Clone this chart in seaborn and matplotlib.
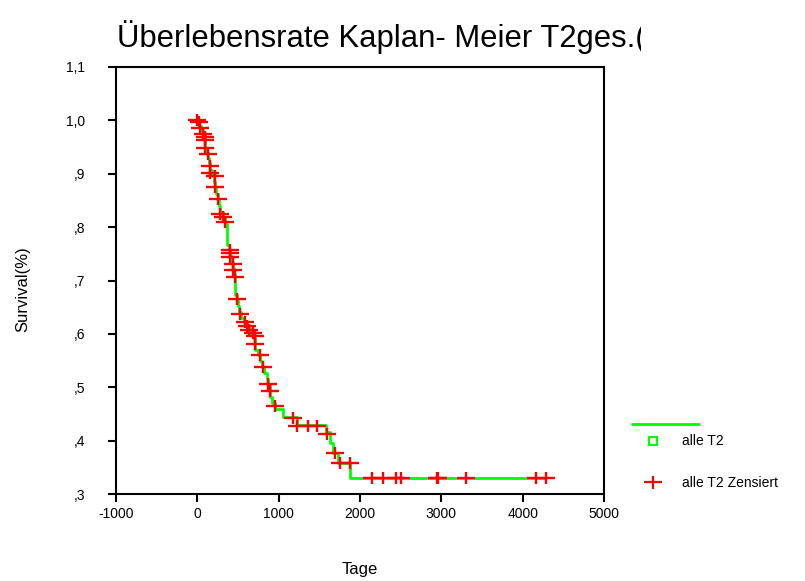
import numpy as np
import pandas as pd
import matplotlib
matplotlib.use("Agg")
import matplotlib.pyplot as plt
import seaborn as sns
from matplotlib.path import Path
from matplotlib.markers import MarkerStyle
from matplotlib.lines import Line2D
from matplotlib.transforms import Bbox, TransformedBbox

# Kaplan-Meier step curve (days, survival after step)
step_days = [0, 25, 49, 74, 98, 123, 135, 148, 160, 185, 209, 221, 234, 258, 271, 283,
             320, 344, 369, 394, 406, 431, 443, 455, 467, 492, 504, 517, 541, 578, 615,
             652, 689, 713, 750, 775, 800, 824, 861, 873, 898, 923, 959, 1058, 1230,
             1587, 1636, 1673, 1734, 1882, 4293]
step_surv = [1.0, 0.989, 0.982, 0.974, 0.948, 0.940, 0.929, 0.920, 0.907, 0.896, 0.884,
             0.873, 0.862, 0.851, 0.839, 0.828, 0.817, 0.806, 0.766, 0.757, 0.746, 0.734,
             0.723, 0.712, 0.673, 0.663, 0.652, 0.641, 0.630, 0.622, 0.611, 0.601, 0.592,
             0.570, 0.560, 0.549, 0.538, 0.527, 0.515, 0.504, 0.482, 0.470, 0.459, 0.444,
             0.429, 0.416, 0.396, 0.377, 0.358, 0.330, 0.330]

# censored observations
cens_days = [0, 25, 30, 74, 98, 98, 98, 135, 160, 160, 221, 221, 258, 283, 320, 344,
             406, 406, 406, 443, 443, 467, 492, 529, 590, 615, 640, 689, 713, 713, 775,
             812, 873, 898, 959, 1181, 1230, 1365, 1476, 1599, 1697, 1759, 1882,
             2153, 2288, 2448, 2509, 2952, 2964, 3309, 4170, 4293]
cens_surv = [1.0, 0.997, 0.985, 0.974, 0.969, 0.963, 0.948, 0.937, 0.914, 0.901, 0.896,
             0.875, 0.852, 0.824, 0.819, 0.809, 0.757, 0.751, 0.744, 0.731, 0.719, 0.706,
             0.665, 0.637, 0.622, 0.615, 0.607, 0.601, 0.596, 0.581, 0.560, 0.538, 0.506,
             0.493, 0.465, 0.442, 0.427, 0.427, 0.427, 0.412, 0.377, 0.358, 0.358,
             0.33, 0.33, 0.33, 0.33, 0.33, 0.33, 0.33, 0.33, 0.33]

x_ticks = [-1000, 0, 1000, 2000, 3000, 4000, 5000]
x_tick_labels = ["-1000", "0", "1000", "2000", "3000", "4000", "5000"]
y_ticks = [0.3, 0.4, 0.5, 0.6, 0.7, 0.8, 0.9, 1.0, 1.1]
y_tick_labels = [",3", ",4", ",5", ",6", ",7", ",8", ",9", "1,0", "1,1"]

title = "Überlebensrate Kaplan- Meier T2ges.("
legend_labels = ["alle T2", "alle T2 Zensiert"]

sns.set_style("white")
plt.rcParams['font.family'] = ['Liberation Sans', 'DejaVu Sans']
plt.rcParams['text.color'] = 'black'
plt.rcParams['axes.labelcolor'] = 'black'

W, H = 805, 581
fig = plt.figure(figsize=(W / 100, H / 100), dpi=100)
ax = fig.add_axes([116 / W, 1 - 494 / H, (604 - 116) / W, (494 - 67) / H])

green = "#00ff00"
red = "#ff0000"

curve = pd.DataFrame({"Tage": step_days, "Survival": step_surv})
sns.lineplot(data=curve, x="Tage", y="Survival", drawstyle="steps-post",
             color=green, lw=2, estimator=None, sort=False, ax=ax, zorder=2)

plus_path = Path([(-1, 0), (1, 0), (0, -0.72), (0, 0.72)],
                 [Path.MOVETO, Path.LINETO, Path.MOVETO, Path.LINETO])
plus_marker = MarkerStyle(plus_path)

cens = pd.DataFrame({"Tage": cens_days, "Survival": cens_surv})
sns.scatterplot(data=cens, x="Tage", y="Survival", marker=plus_marker, s=160,
                color=red, edgecolor=red, linewidth=1.7, ax=ax, zorder=3)

ax.set_xlim(-1000, 5000)
ax.set_ylim(0.3, 1.1)
ax.set_xticks(x_ticks)
ax.set_xticklabels(x_tick_labels)
ax.set_yticks(y_ticks)
ax.set_yticklabels(y_tick_labels)
ax.tick_params(direction="out", length=6, width=1.5, left=True, bottom=True,
               labelsize=10, colors="black")
ax.tick_params(axis="x", pad=3)
ax.tick_params(axis="y", pad=16)
for sp in ax.spines.values():
    sp.set_visible(True)
    sp.set_color("black")
    sp.set_linewidth(1.5)

ax.set_xlabel("Tage", fontsize=12, labelpad=30)
ax.set_ylabel("Survival(%)", fontsize=12, labelpad=30)
ax.yaxis.set_label_coords(-(116 - 30) / (604 - 116), 0.48)

# title, clipped like the reference
t = fig.text(117 / W, 1 - 47 / H, title, fontsize=22.3, va="baseline", ha="left",
             color="black")
t.set_clip_on(True)
t.set_clip_box(TransformedBbox(Bbox([[0, 0], [641 / W, 1]]), fig.transFigure))

# legend (outside, right)
fig.add_artist(Line2D([632 / W, 699 / W], [1 - 424 / H] * 2, color=green, lw=2,
                      transform=fig.transFigure))
fig.add_artist(Line2D([653 / W], [1 - 441 / H], marker="s", mfc="none", mec=green,
                      ms=6, mew=1.5, ls="none", transform=fig.transFigure))
fig.add_artist(Line2D([653 / W], [1 - 482 / H], marker=plus_marker, mec=red,
                      ms=13, mew=1.6, ls="none", transform=fig.transFigure))
fig.text(682 / W, 1 - 441 / H, legend_labels[0], fontsize=10, va="center", ha="left")
fig.text(682 / W, 1 - 483 / H, legend_labels[1], fontsize=10, va="center", ha="left")

fig.savefig("out.png", dpi=100)
